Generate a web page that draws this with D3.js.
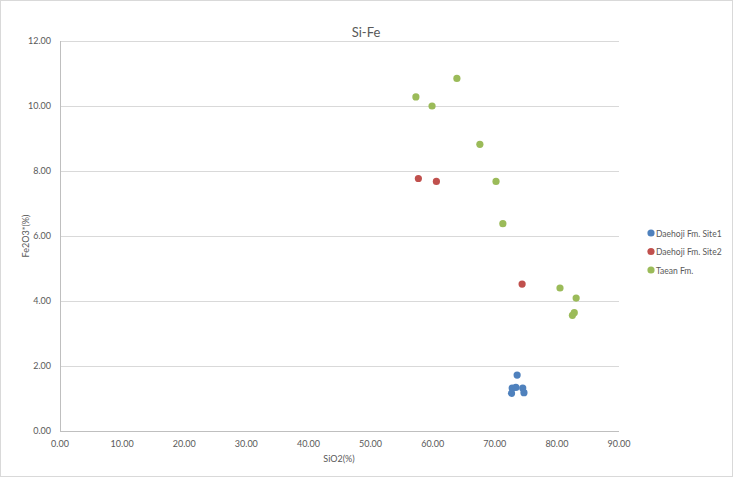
<!DOCTYPE html>
<html>
<head>
<meta charset="utf-8">
<script src="https://cdn.jsdelivr.net/npm/d3@7"></script>
<style>
  body { margin: 0; background: #fff; }
  text { font-family: Lato, "Open Sans", sans-serif; }
</style>
</head>
<body>
<svg id="chart" width="734" height="478"></svg>
<script>
// values
const site1 = [[73.6, 1.72], [72.8, 1.32], [73.4, 1.34], [74.5, 1.32], [72.7, 1.16], [74.7, 1.18]];
const site2 = [[57.7, 7.77], [60.6, 7.68], [74.4, 4.52]];
const taean = [[57.3, 10.28], [59.9, 10.0], [63.9, 10.85], [67.6, 8.82], [70.2, 7.68],
               [71.3, 6.38], [80.5, 4.40], [83.1, 4.09], [82.5, 3.56], [82.8, 3.64]];
const seriesNames = ['Daehoji Fm. Site1', 'Daehoji Fm. Site2', 'Taean Fm.'];
const seriesColors = ['#4f81bd', '#c0504d', '#9bbb59'];
const xTicks = [0, 10, 20, 30, 40, 50, 60, 70, 80, 90];
const yTicks = [0, 2, 4, 6, 8, 10, 12];

const svg = d3.select('#chart');

// outer frame
svg.append('rect')
    .attr('x', 0.5).attr('y', 0.5)
    .attr('width', 732).attr('height', 476)
    .attr('fill', '#fff').attr('stroke', '#d9d9d9');

const xScale = d3.scaleLinear().domain([0, 90]).range([60, 619]);
const yScale = d3.scaleLinear().domain([0, 12]).range([431, 41]);

// horizontal gridlines
svg.append('g').selectAll('line')
    .data(yTicks.filter(d => d > 0))
    .enter().append('line')
    .attr('x1', xScale(0)).attr('x2', xScale(90))
    .attr('y1', d => Math.round(yScale(d)) + 0.5)
    .attr('y2', d => Math.round(yScale(d)) + 0.5)
    .attr('stroke', '#d9d9d9');

// axis lines
svg.append('line')
    .attr('x1', xScale(0) + 0.5).attr('x2', xScale(0) + 0.5)
    .attr('y1', yScale(12)).attr('y2', yScale(0))
    .attr('stroke', '#bfbfbf');
svg.append('line')
    .attr('x1', xScale(0)).attr('x2', xScale(90))
    .attr('y1', Math.round(yScale(0)) + 0.5).attr('y2', Math.round(yScale(0)) + 0.5)
    .attr('stroke', '#bfbfbf');

// tick labels
svg.append('g').selectAll('text')
    .data(yTicks)
    .enter().append('text')
    .attr('x', 51)
    .attr('y', d => yScale(d) + 3)
    .attr('text-anchor', 'end')
    .attr('font-size', 9)
    .attr('fill', '#595959')
    .text(d => d.toFixed(2));

svg.append('g').selectAll('text')
    .data(xTicks)
    .enter().append('text')
    .attr('x', d => xScale(d))
    .attr('y', 447)
    .attr('text-anchor', 'middle')
    .attr('font-size', 9)
    .attr('fill', '#595959')
    .text(d => d.toFixed(2));

// titles
svg.append('text')
    .attr('x', 366).attr('y', 37)
    .attr('text-anchor', 'middle')
    .attr('font-size', 13)
    .attr('fill', '#595959')
    .text('Si-Fe');

svg.append('text')
    .attr('x', 339).attr('y', 462)
    .attr('text-anchor', 'middle')
    .attr('font-size', 9)
    .attr('fill', '#595959')
    .text('SiO2(%)');

svg.append('text')
    .attr('transform', 'translate(29,236) rotate(-90)')
    .attr('text-anchor', 'middle')
    .attr('font-size', 9)
    .attr('fill', '#595959')
    .text('Fe2O3*(%)');

// points
[site1, site2, taean].forEach((pts, i) => {
    svg.append('g').selectAll('circle')
        .data(pts)
        .enter().append('circle')
        .attr('cx', d => xScale(d[0]))
        .attr('cy', d => yScale(d[1]))
        .attr('r', 3.6)
        .attr('fill', seriesColors[i]);
});

// legend
const legend = svg.append('g');
seriesNames.forEach((name, i) => {
    const y = 233 + i * 18.5;
    legend.append('circle')
        .attr('cx', 651).attr('cy', y)
        .attr('r', 3.6)
        .attr('fill', seriesColors[i]);
    legend.append('text')
        .attr('x', 656).attr('y', y + 3.5)
        .attr('font-size', 8.5)
        .attr('fill', '#595959')
        .text(name);
});
</script>
</body>
</html>
